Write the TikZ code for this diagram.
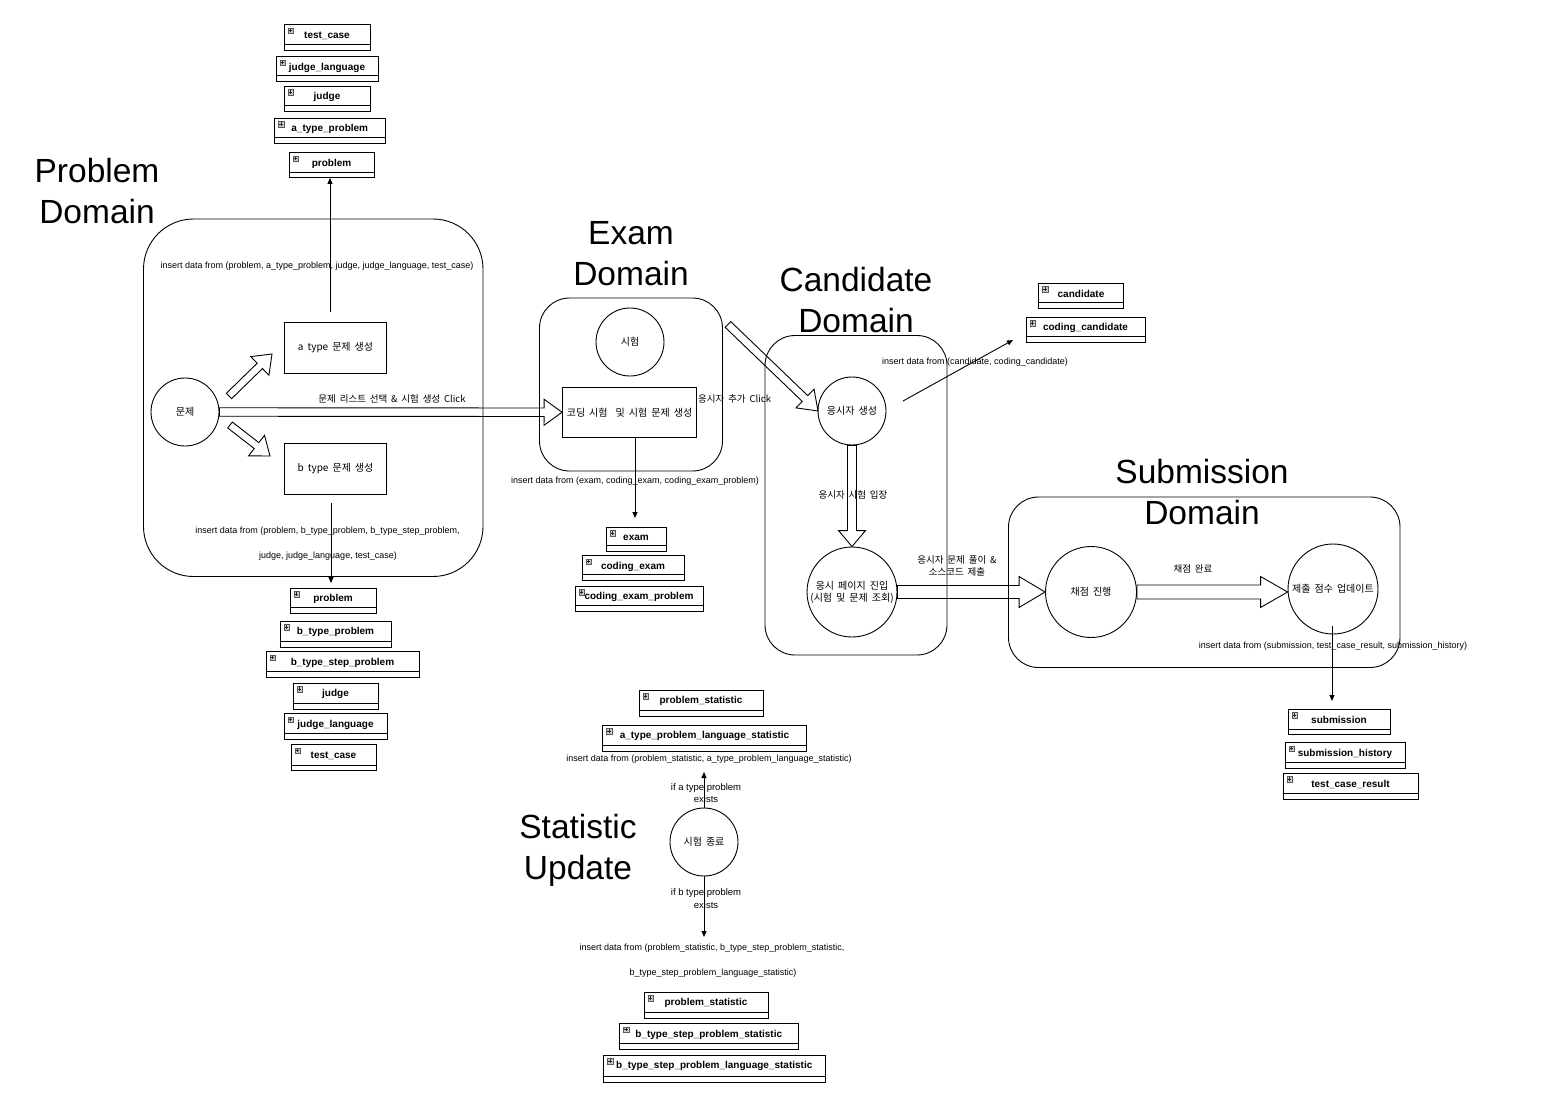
\documentclass[tikz,border=0pt]{standalone}
\usepackage{fontspec}
\setmainfont{Liberation Sans}
\newfontfamily\kr[WordSpace=1.8]{Noto Sans CJK KR}
\usetikzlibrary{arrows.meta,calc}

\tikzset{
  domainbox/.style={draw, line width=0.9pt, rounded corners=30pt, inner sep=0pt},
  procbox/.style={draw, line width=0.9pt, inner sep=0pt, font=\kr\fontsize{10}{12}\selectfont},
  circ/.style={draw, circle, line width=0.9pt, inner sep=0pt},
  domtitle/.style={font=\fontsize{33.5}{41}\selectfont, align=center, inner sep=0pt},
  lbl/.style={font=\fontsize{9}{11}\selectfont, inner sep=0pt},
  iflbl/.style={font=\fontsize{9.5}{12.5}\selectfont, inner sep=0pt, align=center},
  krlbl/.style={font=\kr\fontsize{9.5}{11.5}\selectfont, inner sep=0pt, align=center},
  krin/.style={font=\kr\fontsize{10}{12}\selectfont, inner sep=0pt, align=center},
  tbl/.style={draw, line width=0.9pt, inner sep=0pt},
  tblsep/.style={line width=0.9pt},
  tbltxt/.style={font=\bfseries\fontsize{10}{12}\selectfont, inner sep=0pt},
  icon/.style={draw=gray!70!black, fill=gray!40, minimum size=5.5pt, inner sep=0pt, line width=0.4pt,
    path picture={\draw[line width=0.6pt, black!85]
      ([xshift=1.1pt]path picture bounding box.west) -- ([xshift=-1.1pt]path picture bounding box.east)
      ([yshift=1.1pt]path picture bounding box.south) -- ([yshift=-1.1pt]path picture bounding box.north);}},
  dataarrow/.style={line width=0.9pt, -{Triangle[length=6pt,width=5pt]}},
  hollowarrow/.style={draw, line width=0.9pt, line join=miter},
}

% table box: name, left, top, right, bottom, text
\newcommand\dbtab[6]{%
  \node[tbl, minimum width={(#4)-(#2)}, minimum height={(#5)-(#3)}] (#1) at ({((#2)+(#4))/2},{((#3)+(#5))/2}) {};
  \draw[tblsep] ([yshift=6pt]#1.south west) -- ([yshift=6pt]#1.south east);
  \node[icon] (#1i) at ([xshift=7pt,yshift=-6.5pt]#1.north west) {};
  \node[tbltxt] (#1t) at ([yshift=-11.5pt]#1.north) {#6};
}

% hollow block arrow: start, end, shaft width, head width, head length
\newcommand\flexarrow[5]{%
  \draw[hollowarrow] let \p1=(#1), \p2=(#2),
    \n1={atan2(\y2-\y1,\x2-\x1)}, \n2={veclen(\x2-\x1,\y2-\y1)} in
    [shift={(\p1)}, rotate=\n1]
    (0pt,{(#3/2)*1pt}) -- ({(\n2-#5)*1pt},{(#3/2)*1pt}) -- ({(\n2-#5)*1pt},{(#4/2)*1pt})
    -- ({\n2*1pt},0pt) -- ({(\n2-#5)*1pt},{(-#4/2)*1pt}) -- ({(\n2-#5)*1pt},{(-#3/2)*1pt})
    -- (0pt,{(-#3/2)*1pt}) -- cycle;
}

\begin{document}
\begin{tikzpicture}[x=1pt, y=-1pt]
\useasboundingbox (0,0) rectangle (1557,1100);

% ---------- domain boxes ----------
\node[domainbox, rounded corners=50pt, minimum width=339.5, minimum height=357.5] (pd) at (313.25,397.75) {};
\node[domainbox, minimum width=183, minimum height=173] (ed) at (631,384.5) {};
\node[domainbox, minimum width=182, minimum height=319.5] (cd) at (856,495.25) {};
\node[domainbox, minimum width=391.5, minimum height=170.5] (sd) at (1204.25,582.25) {};

% ---------- titles ----------
\node[domtitle] (tpd) at (97,191) {Problem\\Domain};
\node[domtitle] (ted) at (631,254) {Exam\\Domain};
\node[domtitle] (tcd) at (856,300) {Candidate\\Domain};
\node[domtitle] (tsd) at (1202,492) {Submission\\Domain};
\node[domtitle] (tud) at (578,850) {Statistic\\Update};

% ---------- process boxes & circles ----------
\node[procbox, minimum width=102, minimum height=51] (atype) at (335.5,347.5) {a type 문제 생성};
\node[procbox, minimum width=102, minimum height=51] (btype) at (335.5,468.5) {b type 문제 생성};
\node[procbox, minimum width=134, minimum height=50.5] (cb) at (629.5,412.25) {코딩 시험~ 및 시험 문제 생성};

\node[circ, minimum size=68] (ci) at (185,412) {};
\node[krin] (cit) at (ci.center) {문제};
\node[circ, minimum size=68] (si) at (630,342) {};
\node[krin] (sit) at (si.center) {시험};
\node[circ, minimum size=68] (cand) at (852,411) {};
\node[krin] (candt) at (cand.center) {응시자 생성};
\node[circ, minimum size=90] (page) at (852,592) {};
\node[krin] (paget) at (page.center) {응시 페이지 진입\\(시험 및 문제 조회)};
\node[circ, minimum size=91] (grade) at (1091,592) {};
\node[krin] (gradet) at (grade.center) {채점 진행};
\node[circ, minimum size=90] (score) at (1333,589) {};
\node[krin] (scoret) at (score.center) {제출 점수 업데이트};
\node[circ, minimum size=68] (fin) at (704,842) {};
\node[krin] (fint) at (fin.center) {시험 종료};

% ---------- tables ----------
\dbtab{ta1}{284}{24.5}{370}{50}{test\_case}
\dbtab{ta2}{276}{56.5}{378}{81}{judge\_language}
\dbtab{ta3}{284}{86}{370}{111}{judge}
\dbtab{ta4}{274.5}{118}{385}{143}{a\_type\_problem}
\dbtab{ta5}{289}{152.5}{374}{177.5}{problem}

\dbtab{tb1}{290}{588}{376}{613}{problem}
\dbtab{tb2}{280}{621}{391}{647}{b\_type\_problem}
\dbtab{tb3}{266}{651.5}{419}{677}{b\_type\_step\_problem}
\dbtab{tb4}{293}{683}{378}{709}{judge}
\dbtab{tb5}{284}{713.5}{387}{739}{judge\_language}
\dbtab{tb6}{291}{744.5}{376}{770.5}{test\_case}

\dbtab{te1}{606}{527}{666}{551}{exam}
\dbtab{te2}{582}{555.5}{684}{580}{coding\_exam}
\dbtab{te3}{575}{586}{703}{611}{coding\_exam\_problem}

\dbtab{tc1}{1038.5}{283}{1123.5}{308}{candidate}
\dbtab{tc2}{1026}{317}{1145}{342}{coding\_candidate}

\dbtab{ts1}{1288}{709}{1390}{734.5}{submission}
\dbtab{ts2}{1285}{742.5}{1405}{768}{submission\_history}
\dbtab{ts3}{1283}{773}{1418}{799}{test\_case\_result}

\dbtab{tu1}{639}{690}{763}{716}{problem\_statistic}
\dbtab{tu2}{602.5}{725}{806.5}{751}{a\_type\_problem\_language\_statistic}

\dbtab{tv1}{644}{992}{768}{1018}{problem\_statistic}
\dbtab{tv2}{619.5}{1023.5}{798}{1049}{b\_type\_step\_problem\_statistic}
\dbtab{tv3}{603.5}{1055}{825}{1082}{b\_type\_step\_problem\_language\_statistic}

% ---------- labels ----------
\node[lbl] (l1) at (317,266) {insert data from (problem, a\_type\_problem, judge, judge\_language, test\_case)};
\node[krlbl] (l2) at (392,399) {문제 리스트 선택 \& 시험 생성 Click};
\node[lbl] (l3) at (327.5,531) {insert data from (problem, b\_type\_problem, b\_type\_step\_problem,};
\node[lbl] (l4) at (328,556) {judge, judge\_language, test\_case)};
\node[lbl] (l5) at (635,481) {insert data from (exam, coding\_exam, coding\_exam\_problem)};
\node[krlbl, anchor=west] (l6) at (698,399) {응시자 추가 Click};
\node[lbl] (l7) at (975,362) {insert data from (candidate, coding\_candidate)};
\node[krlbl] (l8) at (853,495) {응시자 시험 입장};
\node[krlbl] (l9) at (957,566) {응시자 문제 풀이 \&\\소스코드 제출};
\node[krlbl] (l10) at (1193,569) {채점 완료};
\node[lbl] (l11) at (1333,646) {insert data from (submission, test\_case\_result, submission\_history)};
\node[lbl] (l12) at (709,759) {insert data from (problem\_statistic, a\_type\_problem\_language\_statistic)};
\node[iflbl] (l13) at (706,793) {if a type problem\\exists};
\node[iflbl] (l14) at (706,898.5) {if b type problem\\exists};
\node[lbl] (l15) at (712,948) {insert data from (problem\_statistic, b\_type\_step\_problem\_statistic,};
\node[lbl] (l16) at (713,973) {b\_type\_step\_problem\_language\_statistic)};

% ---------- thin data arrows ----------
\coordinate (aS) at (330,312);
\draw[dataarrow] (aS) -- (aS |- ta5.south);
\coordinate (bS) at (331,503);
\coordinate (bE) at (331,583);
\draw[dataarrow] (bS) -- (bE);
\coordinate (eE) at (635,518);
\draw[dataarrow] (cb.south -| eE) -- (eE);
\coordinate (cS) at (903,401);
\coordinate (cE) at (1013,340);
\draw[dataarrow] (cS) -- (cE);
\coordinate (sS) at (1332,626);
\coordinate (sE) at (1332,701);
\draw[dataarrow] (sS) -- (sE);
\coordinate (uE) at (704,772);
\draw[dataarrow] (fin.north) -- (uE);
\coordinate (dE) at (704,937);
\draw[dataarrow] (fin.south) -- (dE);

% ---------- hollow block arrows ----------
\coordinate (f1s) at (229,396);
\coordinate (f1e) at (272,354);
\flexarrow{f1s}{f1e}{7.5}{26}{17}
\coordinate (f2s) at (230,425);
\coordinate (f2e) at (270,456);
\flexarrow{f2s}{f2e}{7.5}{26}{17}
\flexarrow{ci.east}{cb.west}{8.5}{26}{18}
\coordinate (f4s) at (728,324.5);
\coordinate (f4e) at (818,411);
\flexarrow{f4s}{f4e}{8}{26}{18}
\flexarrow{cand.south}{page.north}{9}{27}{16}
\flexarrow{page.east}{grade.west}{13}{31}{26}
\flexarrow{grade.east}{grade.east -| score.west}{14}{31}{27}

\end{tikzpicture}
\end{document}
